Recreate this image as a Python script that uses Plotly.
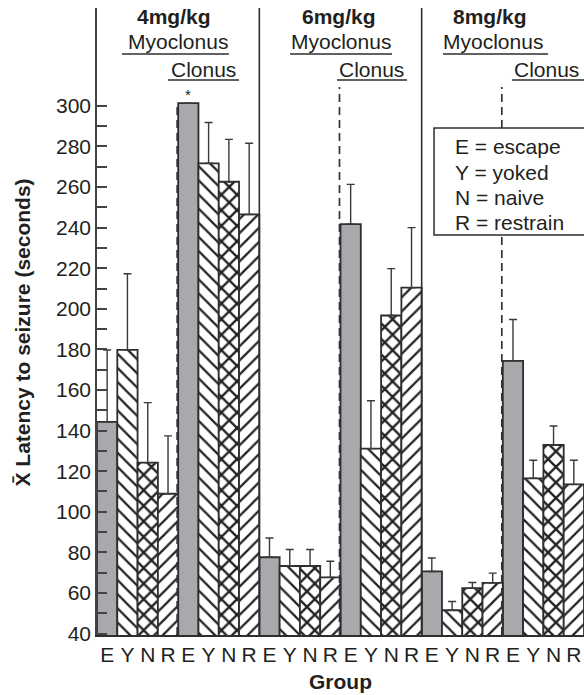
import plotly.graph_objects as go

# Groups: dose x seizure stage, four conditions in each
doses = ["4mg/kg", "6mg/kg", "8mg/kg"]
stages = ["Myoclonus", "Clonus"]
conditions = ["E", "Y", "N", "R"]
condition_names = ["escape", "yoked", "naive", "restrain"]

# Mean latency to seizure (s), order: 4 Myo, 4 Clo, 6 Myo, 6 Clo, 8 Myo, 8 Clo
mean_E = [144.3, 301.3, 77.6, 241.7, 70.6, 174.4]
mean_Y = [179.8, 271.7, 73.3, 131.1, 51.5, 116.5]
mean_N = [124.2, 262.6, 73.3, 196.7, 62.4, 132.9]
mean_R = [108.9, 246.5, 67.7, 210.4, 65.0, 113.5]

# Standard error (upper bar only)
sem_E = [35.4, 0.0, 9.5, 19.6, 6.6, 20.3]
sem_Y = [37.5, 20.1, 8.1, 23.6, 4.3, 8.9]
sem_N = [29.6, 20.9, 8.1, 23.1, 2.8, 9.4]
sem_R = [28.5, 35.1, 7.9, 29.6, 4.8, 11.9]

means = [mean_E, mean_Y, mean_N, mean_R]
sems = [sem_E, sem_Y, sem_N, sem_R]

INK = "#231f20"
LINE = "#2e2e2e"
GRAY = "#a7a9ac"
FONT = "Liberation Sans, Arial, Helvetica, sans-serif"
FS = 21

n_groups = len(doses) * len(stages)
n_cond = len(conditions)

# bar styles per condition
hatch = dict(size=10, solidity=0.22, fgcolor="#222222", bgcolor="white", fgopacity=1)
cross = dict(size=11, solidity=0.38, fgcolor="#222222", bgcolor="white", fgopacity=1)
styles = [
    dict(color=GRAY, pattern=dict(shape="")),
    dict(color="white", pattern=dict(shape="\\", **hatch)),
    dict(color="white", pattern=dict(shape="x", **cross)),
    dict(color="white", pattern=dict(shape="/", **hatch)),
]

fig = go.Figure()
for k, code in enumerate(conditions):
    xs = [g * n_cond + k for g in range(n_groups)]
    fig.add_trace(go.Bar(
        x=xs, y=means[k], width=1, name=code,
        marker=dict(color=styles[k]["color"], pattern=styles[k]["pattern"],
                    line=dict(color=LINE, width=1.8)),
        error_y=dict(type="data", symmetric=False, array=sems[k],
                     arrayminus=[0] * n_groups, color="#3a3a3a",
                     thickness=1.4, width=4),
        showlegend=False,
    ))

tickvals = list(range(n_groups * n_cond))
ticktext = conditions * n_groups

shapes = []
annotations = []

# plot area in pixels: top 8, bottom 635
def paper_y(px):
    return (635 - px) / 627

def label(text, x, y, xref="x", xanchor="center", size=FS, angle=0):
    return dict(text=text, x=x, y=y, xref=xref, yref="paper", xanchor=xanchor,
                yanchor="middle", showarrow=False, textangle=angle,
                font=dict(size=size, color=INK, family=FONT))

# solid separators between doses
for d in range(1, len(doses)):
    xb = d * 2 * n_cond - 0.5
    shapes.append(dict(type="line", xref="x", yref="paper", x0=xb, x1=xb, y0=0, y1=1,
                       line=dict(color=LINE, width=1.6)))

# dashed separators between myoclonus and clonus
dash_tops = [103, 87, 87]
for d in range(len(doses)):
    xb = d * 2 * n_cond + n_cond - 0.55
    shapes.append(dict(type="line", xref="x", yref="paper", x0=xb, x1=xb, y0=0,
                       y1=paper_y(dash_tops[d]),
                       line=dict(color="#333333", width=1.7, dash="8px,5px")))

# header text: dose, stage labels with underlines
title_x = [3.3, 11.43, 18.87]
myo_x = [3.49, 11.53, 19.02]
myo_span = [(0.73, 6.0), (9.01, 14.04), (16.55, 21.73)]
clo_x = [4.77, 13.05, 21.63]
clo_span = [(3.0, 6.5), (11.33, 14.78), (19.95, 23.6)]
for d, dose in enumerate(doses):
    annotations.append(label("<b>" + dose + "</b>", title_x[d], paper_y(17)))
    annotations.append(label(stages[0], myo_x[d], paper_y(42)))
    annotations.append(label(stages[1], clo_x[d], paper_y(69)))
    shapes.append(dict(type="line", xref="x", yref="paper", x0=myo_span[d][0], x1=myo_span[d][1],
                       y0=paper_y(54), y1=paper_y(54), line=dict(color=LINE, width=1.5)))
    shapes.append(dict(type="line", xref="x", yref="paper", x0=clo_span[d][0], x1=clo_span[d][1],
                       y0=paper_y(80), y1=paper_y(80), line=dict(color=LINE, width=1.5)))

# significance marker over 4mg/kg clonus escape
annotations.append(label("*", n_cond, paper_y(95), size=15))

# key box
shapes.append(dict(type="rect", xref="x", yref="paper", x0=16.11, x1=24.5,
                   y0=paper_y(235), y1=paper_y(128), fillcolor="white",
                   line=dict(color=LINE, width=1.5)))
key_rows = [147, 172, 197, 222]
for code, name, py in zip(conditions, condition_names, key_rows):
    annotations.append(label(f"{code} = {name}", 17.05, paper_y(py), xanchor="left"))

# axis titles
annotations.append(label("<b>X\u0304 Latency to seizure (seconds)</b>", -0.155, paper_y(333),
                         xref="paper", angle=-90))
annotations.append(label("<b>Group</b>", 0.5, paper_y(681), xref="paper"))

fig.update_layout(
    width=584, height=695,
    margin=dict(l=97, r=0, t=8, b=60),
    paper_bgcolor="white", plot_bgcolor="white",
    barmode="overlay",
    shapes=shapes, annotations=annotations,
    font=dict(family=FONT, size=FS, color=INK),
    xaxis=dict(range=[-0.5, 23.5], tickmode="array", tickvals=tickvals, ticktext=ticktext,
               showline=True, linecolor=LINE, linewidth=1.8, ticks="", showgrid=False,
               zeroline=False, ticklabelstandoff=0,
               tickfont=dict(size=FS, color=INK, family=FONT)),
    yaxis=dict(range=[39.3, 348.2], tickmode="array", tickvals=list(range(40, 301, 20)),
               showline=True, linecolor="#444444", linewidth=1.6, ticks="inside",
               ticklen=10, tickwidth=1.5, tickcolor="#444444", showgrid=False, zeroline=False,
               tickfont=dict(size=FS, color=INK, family=FONT),
               minor=dict(tickmode="array", tickvals=list(range(50, 301, 20)),
                          ticks="inside", ticklen=10, tickwidth=1.5, tickcolor="#444444")),
)

fig.write_html("out.html")
